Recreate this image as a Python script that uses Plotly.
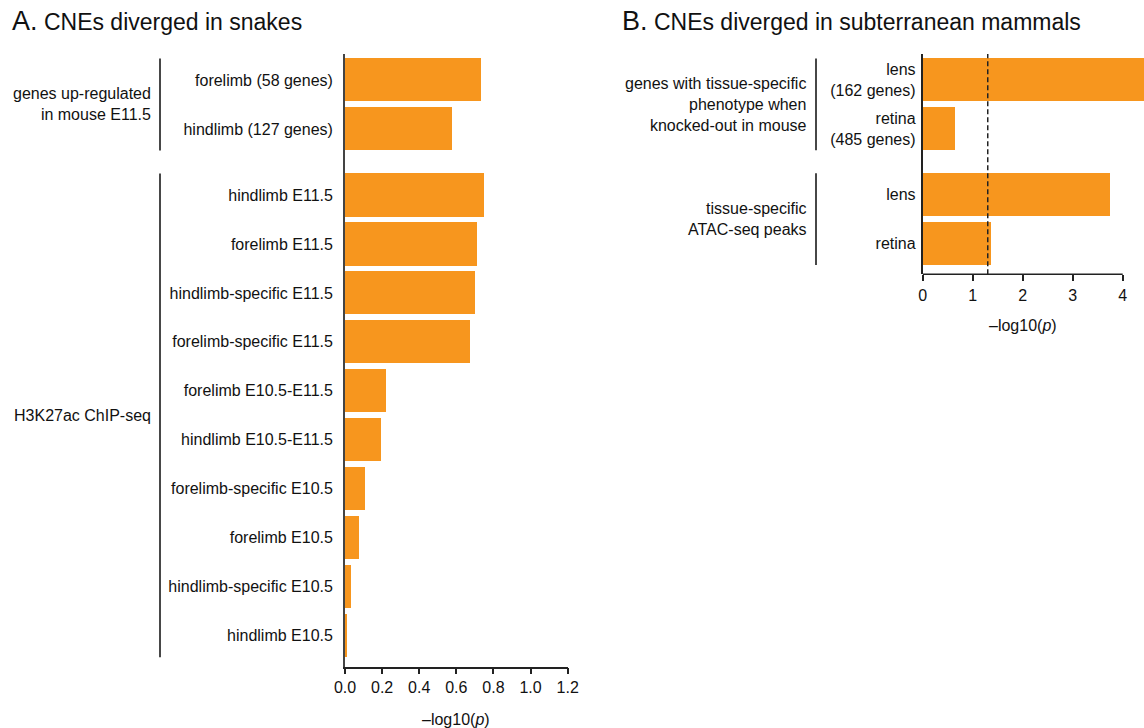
import plotly.graph_objects as go

# ---- data -------------------------------------------------------------
snake_labels = [
    "forelimb (58 genes)", "hindlimb (127 genes)",
    "hindlimb E11.5", "forelimb E11.5", "hindlimb-specific E11.5",
    "forelimb-specific E11.5", "forelimb E10.5-E11.5", "hindlimb E10.5-E11.5",
    "forelimb-specific E10.5", "forelimb E10.5", "hindlimb-specific E10.5",
    "hindlimb E10.5",
]
snake_values = [0.735, 0.574, 0.749, 0.711, 0.700, 0.673,
                0.221, 0.194, 0.108, 0.075, 0.031, 0.009]
snake_groups = [0, 0, 1, 1, 1, 1, 1, 1, 1, 1, 1, 1]
snake_group_names = ["genes up-regulated<br>in mouse E11.5", "H3K27ac ChIP-seq"]

mammal_labels = ["lens<br>(162 genes)", "retina<br>(485 genes)", "lens", "retina"]
mammal_values = [4.60, 0.63, 3.73, 1.36]
mammal_groups = [0, 0, 1, 1]
mammal_group_names = [
    "genes with tissue-specific<br>phenotype when<br>knocked-out in mouse",
    "tissue-specific<br>ATAC-seq peaks",
]

snake_ticks = [0, 0.2, 0.4, 0.6, 0.8, 1.0, 1.2]
mammal_ticks = [0, 1, 2, 3, 4]
p_threshold = 1.301  # -log10(0.05)

# ---- layout constants ---------------------------------------------------
W, H = 1144, 728
GROUP_GAP = 0.35
BAR_W = 0.88
ORANGE = "#F7961E"
INK = "#222222"
TEXT = "#111111"
FONT = "Liberation Sans, Arial, Helvetica, sans-serif"


def px_x(v):
    return v / W


def px_y(v):
    return 1 - v / H


def positions(groups):
    return [i + GROUP_GAP * g for i, g in enumerate(groups)]


snake_pos = positions(snake_groups)
mammal_pos = positions(mammal_groups)

fig = go.Figure()

fig.add_trace(go.Bar(
    x=snake_values, y=snake_pos, orientation="h", width=BAR_W,
    marker=dict(color=ORANGE, line=dict(width=0)),
    xaxis="x", yaxis="y", showlegend=False, hoverinfo="x+text",
    text=snake_labels, textposition="none",
))
fig.add_trace(go.Bar(
    x=mammal_values, y=mammal_pos, orientation="h", width=BAR_W,
    marker=dict(color=ORANGE, line=dict(width=0)),
    xaxis="x2", yaxis="y2", showlegend=False, hoverinfo="x",
))

tickfont = dict(family=FONT, size=16, color=TEXT)

fig.update_layout(
    width=W, height=H,
    margin=dict(l=0, r=0, t=0, b=0, pad=0, autoexpand=False),
    paper_bgcolor="white", plot_bgcolor="white",
    font=dict(family=FONT, size=16, color=TEXT),
    bargap=0,
    xaxis=dict(
        domain=[px_x(345), px_x(567.7)], range=[0, 1.2],
        tickvals=snake_ticks, tickformat=".1f",
        showline=True, linecolor=INK, linewidth=1.5,
        ticks="outside", ticklen=6, tickwidth=1.5, tickcolor=INK,
        showgrid=False, zeroline=False, tickfont=tickfont, anchor="y",
        automargin=False,
    ),
    yaxis=dict(
        domain=[px_y(666.5), px_y(54)],
        range=[snake_pos[-1] + 0.63, -0.53],
        tickvals=snake_pos, ticktext=snake_labels,
        showline=True, linecolor="#444444", linewidth=1.8,
        ticks="", ticklabelstandoff=7,
        showgrid=False, zeroline=False, tickfont=tickfont, anchor="x",
        automargin=False,
    ),
    xaxis2=dict(
        domain=[px_x(922.7), 1.0],
        range=[0, (W - 922.7) / 50.0],
        tickvals=mammal_ticks,
        showline=False,
        ticks="outside", ticklen=6, tickwidth=1.5, tickcolor=INK,
        showgrid=False, zeroline=False, tickfont=tickfont, anchor="y2",
        automargin=False,
    ),
    yaxis2=dict(
        domain=[px_y(274.3), px_y(54)],
        range=[mammal_pos[-1] + 0.63, -0.53],
        tickvals=mammal_pos, ticktext=mammal_labels,
        showline=True, linecolor=INK, linewidth=1.8,
        ticks="", ticklabelstandoff=2,
        showgrid=False, zeroline=False, tickfont=tickfont, anchor="x2",
        automargin=False,
    ),
)

shapes = []
annotations = []

# x-axis line for panel B stops at the last tick
shapes.append(dict(
    type="line", xref="x2", yref="y2 domain",
    x0=0, x1=mammal_ticks[-1], y0=0, y1=0,
    line=dict(color=INK, width=1.5),
))

# significance threshold
shapes.append(dict(
    type="line", xref="x2", yref="y2 domain",
    x0=p_threshold, x1=p_threshold, y0=0, y1=1,
    line=dict(color=INK, width=1.5, dash="5px,3px"),
))


def add_groups(pos, groups, names, yref, bracket_x, label_x):
    for g, name in enumerate(names):
        members = [p for p, gg in zip(pos, groups) if gg == g]
        top, bottom = members[0] - BAR_W / 2, members[-1] + BAR_W / 2
        shapes.append(dict(
            type="line", xref="paper", yref=yref,
            x0=px_x(bracket_x), x1=px_x(bracket_x), y0=top, y1=bottom,
            line=dict(color="#333333", width=1.8),
        ))
        annotations.append(dict(
            text=name, xref="paper", yref=yref,
            x=px_x(label_x), y=(members[0] + members[-1]) / 2,
            xanchor="right", yanchor="middle", align="right",
            showarrow=False, font=dict(family=FONT, size=16, color=TEXT),
        ))


add_groups(snake_pos, snake_groups, snake_group_names, "y", 160, 153)
add_groups(mammal_pos, mammal_groups, mammal_group_names, "y2", 816, 809)

# axis titles
annotations.append(dict(
    text="\u2013log10(<i>p</i>)", xref="x", yref="paper",
    x=0.6, y=px_y(719), xanchor="center", yanchor="middle",
    showarrow=False, font=dict(family=FONT, size=16, color=TEXT),
))
annotations.append(dict(
    text="\u2013log10(<i>p</i>)", xref="x2", yref="paper",
    x=2, y=px_y(325), xanchor="center", yanchor="middle",
    showarrow=False, font=dict(family=FONT, size=16, color=TEXT),
))

# panel titles
annotations.append(dict(
    text="<span style='font-size:27px'>A.</span> CNEs diverged in snakes",
    xref="paper", yref="paper", x=px_x(10), y=px_y(21),
    xanchor="left", yanchor="middle", showarrow=False,
    font=dict(family=FONT, size=23, color=TEXT),
))
annotations.append(dict(
    text="<span style='font-size:27px'>B.</span> CNEs diverged in subterranean mammals",
    xref="paper", yref="paper", x=px_x(620), y=px_y(21),
    xanchor="left", yanchor="middle", showarrow=False,
    font=dict(family=FONT, size=23, color=TEXT),
))

fig.update_layout(shapes=shapes, annotations=annotations)

fig.write_html("out.html")
